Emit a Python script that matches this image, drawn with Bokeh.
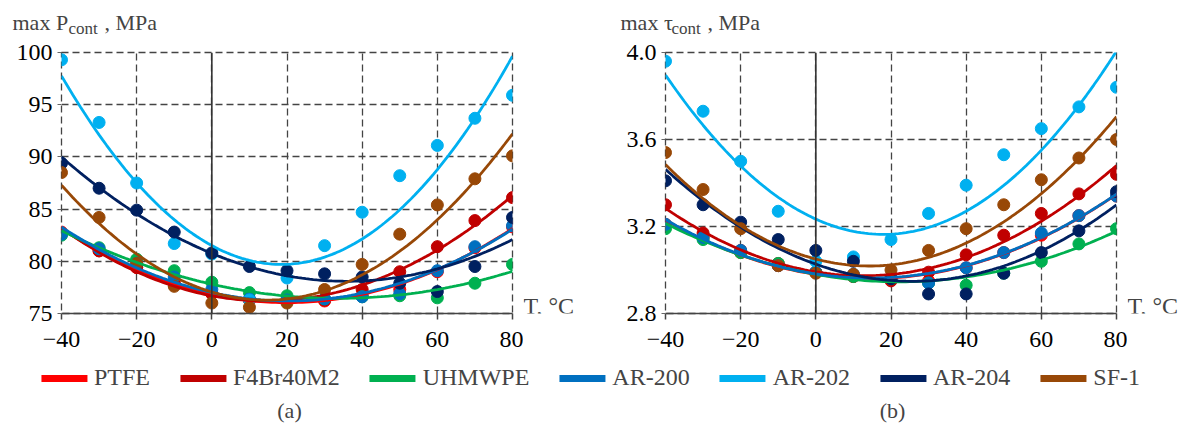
import numpy as np
from bokeh.plotting import figure
from bokeh.layouts import column, row
from bokeh.models import Range1d, Span, Label, Legend, LegendItem, FixedTicker, NumeralTickFormatter
from bokeh.embed import file_html
from bokeh.resources import INLINE

# ---------------- data ----------------
temps = [-40, -30, -20, -10, 0, 10, 20, 30, 40, 50, 60, 70, 80]
materials = ["PTFE", "F4Br40M2", "UHMWPE", "AR-200", "AR-202", "AR-204", "SF-1"]
colors = ["#FF0000", "#C00000", "#00B050", "#0070C0", "#00B0F0", "#002060", "#984807"]

# max contact pressure, MPa
p_ptfe = [82.8, 81.0, 79.4, 78.0, 76.9, 76.3, 76.2, 76.2, 76.7, 77.3, 79.0, 81.3, 83.3]
p_f4br = [82.7, 81.0, 79.4, 77.8, 76.9, 76.3, 76.3, 76.3, 77.3, 79.0, 81.4, 83.9, 86.1]
p_uhmw = [82.5, 81.3, 80.2, 79.1, 78.0, 77.0, 76.7, 76.4, 76.6, 76.7, 76.5, 77.9, 79.7]
p_ar200 = [82.6, 81.2, 79.8, 78.5, 77.3, 76.4, 76.3, 76.4, 76.6, 76.9, 79.1, 81.4, 83.4]
p_ar202 = [99.3, 93.3, 87.5, 81.7, 80.7, 76.3, 78.4, 81.5, 84.7, 88.2, 91.1, 93.7, 95.9]
p_ar204 = [89.4, 87.0, 84.9, 82.8, 80.8, 79.5, 79.1, 78.8, 78.5, 77.9, 77.1, 79.5, 84.2]
p_sf1 = [88.5, 84.2, 79.8, 77.6, 76.0, 75.6, 76.0, 77.3, 79.7, 82.6, 85.4, 87.9, 90.1]

# max contact shear stress, MPa
t_ptfe = [3.21, 3.15, 3.08, 3.02, 2.99, 2.97, 2.96, 2.95, 3.01, 3.08, 3.16, 3.25, 3.34]
t_f4br = [3.30, 3.17, 3.09, 3.03, 2.99, 2.97, 2.95, 2.99, 3.07, 3.16, 3.26, 3.35, 3.44]
t_uhmw = [3.19, 3.14, 3.08, 3.03, 2.99, 2.97, 2.96, 2.94, 2.93, 2.985, 3.04, 3.12, 3.19]
t_ar200 = [3.21, 3.15, 3.09, 3.02, 2.99, 2.98, 2.965, 2.94, 3.01, 3.08, 3.17, 3.25, 3.34]
t_ar202 = [3.96, 3.73, 3.50, 3.27, 3.04, 3.06, 3.14, 3.26, 3.39, 3.53, 3.65, 3.75, 3.84]
t_ar204 = [3.41, 3.30, 3.22, 3.14, 3.09, 3.04, 2.96, 2.89, 2.89, 2.985, 3.08, 3.18, 3.36]
t_sf1 = [3.54, 3.37, 3.19, 3.02, 2.985, 2.98, 3.00, 3.09, 3.19, 3.30, 3.415, 3.515, 3.60]

p_series = [p_ptfe, p_f4br, p_uhmw, p_ar200, p_ar202, p_ar204, p_sf1]
t_series = [t_ptfe, t_f4br, t_uhmw, t_ar200, t_ar202, t_ar204, t_sf1]

x_ticks = [-40, -20, 0, 20, 40, 60, 80]
p_ticks = [75, 80, 85, 90, 95, 100]
t_ticks = [2.8, 3.2, 3.6, 4.0]

FONT = "Liberation Serif"
GRID = "#444444"
TOP_H = 38
B_TOP, B_BOT, FRAME_H = 14, 46, 261
PANEL_H = B_TOP + FRAME_H + B_BOT
LEG_H = 441 - TOP_H - PANEL_H


def blank(width, height, top=0, bottom=0):
    f = figure(width=width, height=height, x_range=Range1d(0, width),
               y_range=Range1d(0, height - top - bottom),
               output_backend="svg", toolbar_location=None, x_axis_location=None, y_axis_location=None,
               min_border=0, min_border_left=0, min_border_right=0,
               min_border_top=top, min_border_bottom=bottom)
    f.outline_line_color = None
    f.grid.visible = False
    return f


def make_panel(series, y0, y1, yticks, width, left, right, yfmt=None):
    p = figure(width=width, height=PANEL_H, x_range=Range1d(-40, 80), y_range=Range1d(y0, y1),
               output_backend="svg", toolbar_location=None,
               min_border_left=left, min_border_right=right,
               min_border_top=B_TOP, min_border_bottom=B_BOT)
    p.outline_line_color = GRID
    p.outline_line_dash = "7 4"
    p.outline_line_width = 1.3
    p.xaxis.ticker = FixedTicker(ticks=x_ticks)
    p.yaxis.ticker = FixedTicker(ticks=yticks)
    p.xaxis.major_label_overrides = {-40: "\u221240", -20: "\u221220"}
    if yfmt:
        p.yaxis.formatter = NumeralTickFormatter(format=yfmt)
    for ax in (p.xaxis, p.yaxis):
        ax.major_label_text_font = FONT
        ax.major_label_text_font_size = "24px"
        ax.major_label_text_color = "black"
        ax.minor_tick_line_color = None
    p.xaxis.axis_line_color = "#444444"
    p.xaxis.axis_line_width = 1.5
    p.xaxis.major_tick_line_color = "#444444"
    p.xaxis.major_tick_line_width = 1.5
    p.xaxis.major_tick_in = 0
    p.xaxis.major_tick_out = 6
    p.xaxis.major_label_standoff = 12
    p.yaxis.axis_line_color = None
    p.yaxis.major_tick_line_color = "#666666"
    p.yaxis.major_tick_in = 0
    p.yaxis.major_tick_out = 4
    p.yaxis.major_label_standoff = 5
    for g in (p.xgrid, p.ygrid):
        g.grid_line_color = GRID
        g.grid_line_dash = "7 4"
        g.grid_line_width = 1.3
    p.add_layout(Span(location=0, dimension="height", line_color="#333333", line_width=1.6))

    xs = np.linspace(-40, 80, 121)
    for vals, c in zip(series, colors):
        p.scatter(temps, vals, size=12, fill_color=c, line_color=c)
    for vals, c in zip(series, colors):
        coef = np.polyfit(temps, vals, 2)
        p.line(xs, np.polyval(coef, xs), line_color=c, line_width=2.8)
    return p


# axis titles strip
top = blank(1181, TOP_H)
for x, y, txt, fs in [(12, TOP_H - 21.5, "max P", "22px"), (68, TOP_H - 28, "cont", "17px"),
                      (104, TOP_H - 21.5, ", MPa", "22px"),
                      (620, TOP_H - 21.5, "max \u03c4", "22px"), (671, TOP_H - 28, "cont", "17px"),
                      (707, TOP_H - 21.5, ", MPa", "22px")]:
    top.add_layout(Label(x=x, y=y, text=txt, text_font=FONT, text_font_size=fs, text_baseline="middle"))

p1 = make_panel(p_series, 75, 100, p_ticks, 523, 61, 11)
p2 = make_panel(t_series, 2.8, 4.0, t_ticks, 537, 75, 11, yfmt="0.0")

s1 = blank(67, PANEL_H, B_TOP, B_BOT)
s1.add_layout(Label(x=0, y=8, text="T, \u00b0C", text_font=FONT, text_font_size="24px",
                    text_baseline="middle"))
s2 = blank(54, PANEL_H, B_TOP, B_BOT)
s2.add_layout(Label(x=0, y=8, text="T, \u00b0C", text_font=FONT, text_font_size="24px",
                    text_baseline="middle"))

p3 = blank(1181, LEG_H)
items = []
for m, c in zip(materials, colors):
    r = p3.line(x=[np.nan, np.nan], y=[np.nan, np.nan], line_color=c, line_width=7, line_cap="round")
    items.append(LegendItem(label=m, renderers=[r]))
leg = Legend(items=items, orientation="horizontal", location="top", margin=5, padding=0,
             spacing=30, glyph_width=46, glyph_height=24, label_standoff=7,
             label_text_font=FONT, label_text_font_size="24px", border_line_color=None,
             background_fill_alpha=0)
p3.add_layout(leg, "center")
p3.add_layout(Label(x=289, y=LEG_H - 51, text="(a)", text_align="center", text_baseline="middle",
                    text_font=FONT, text_font_size="22px"))
p3.add_layout(Label(x=892, y=LEG_H - 51, text="(b)", text_align="center", text_baseline="middle",
                    text_font=FONT, text_font_size="22px"))

layout = column(top, row(p1, s1, p2, s2), p3)
open("out.html", "w").write(file_html(layout, INLINE))
